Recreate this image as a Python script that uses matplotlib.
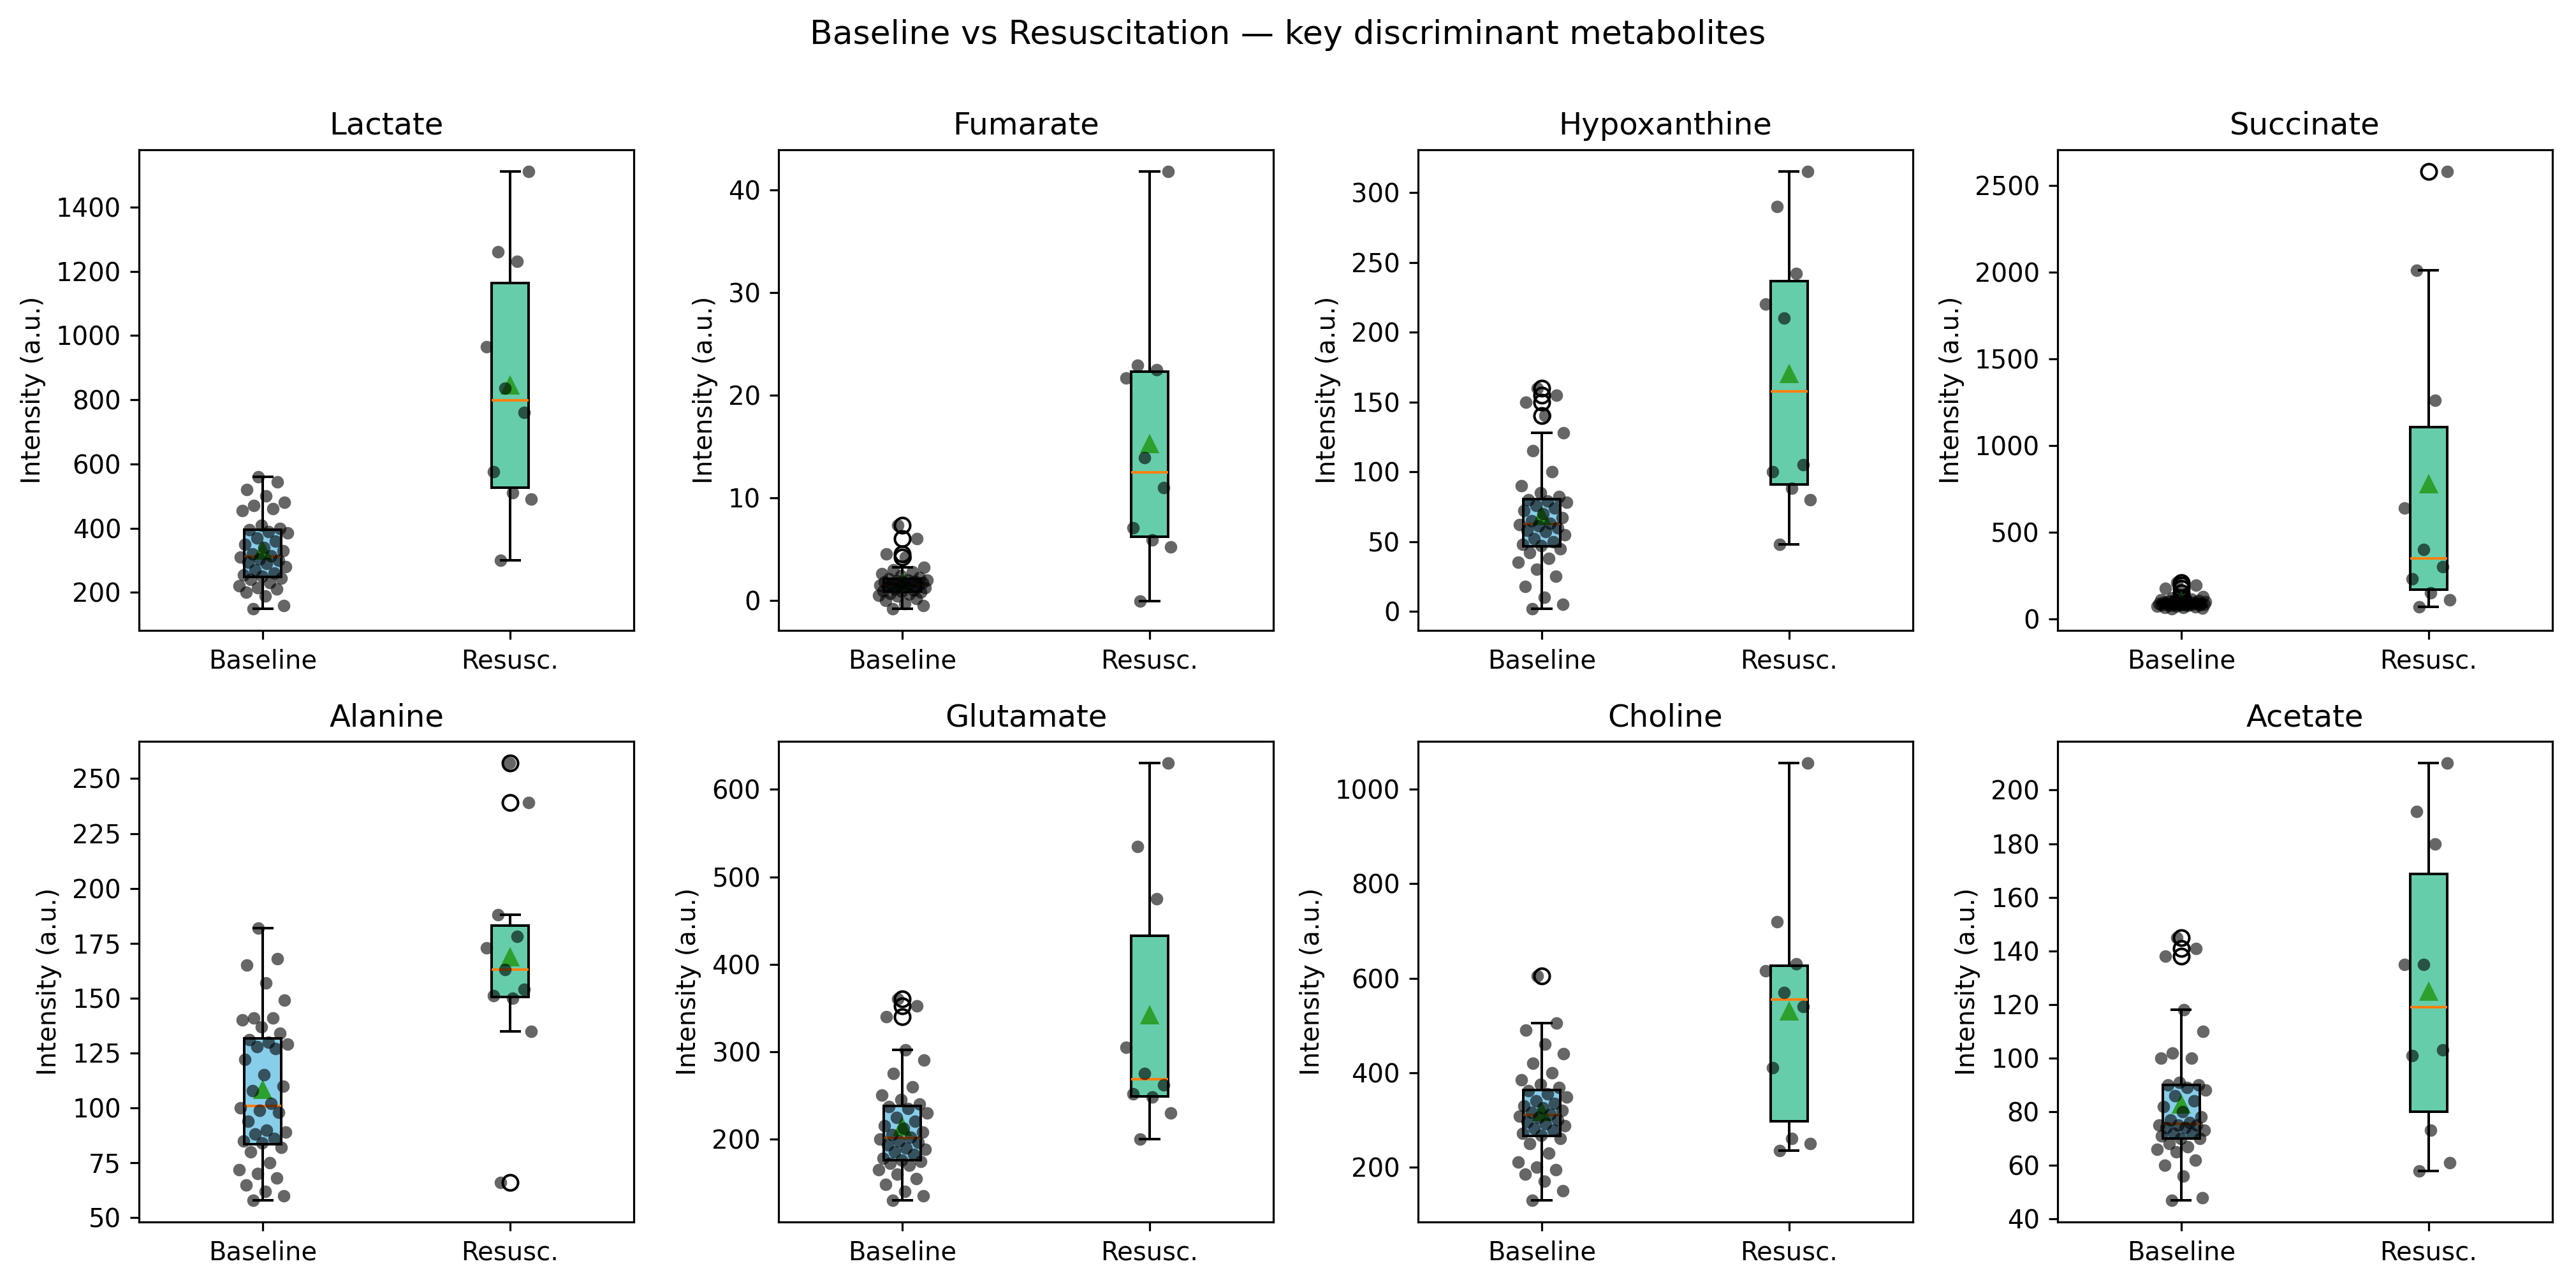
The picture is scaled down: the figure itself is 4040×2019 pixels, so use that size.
import numpy as np
import matplotlib
matplotlib.use("Agg")
import matplotlib.pyplot as plt

# ---------------- data ----------------
metabolites = ["Lactate", "Fumarate", "Hypoxanthine", "Succinate",
               "Alanine", "Glutamate", "Choline", "Acetate"]
group_labels = ["Baseline", "Resusc."]

lactate_base = [150, 160, 190, 200, 210, 215, 220, 230, 240, 245,
                250, 255, 260, 270, 280, 290, 295, 300, 305, 310,
                315, 320, 330, 340, 350, 360, 370, 385, 390, 395,
                400, 410, 455, 460, 470, 480, 500, 520, 545, 560]
lactate_resus = [300, 490, 510, 575, 760, 835, 965, 1230, 1260, 1510]

fumarate_base = [-0.8, -0.5, -0.3, 0.0, 0.2, 0.4, 0.5, 0.6, 0.7, 0.8,
                 0.85, 0.9, 1.0, 1.1, 1.2, 1.3, 1.35, 1.4, 1.5, 1.5,
                 1.6, 1.6, 1.7, 1.75, 1.8, 1.85, 1.9, 1.95, 2.0, 2.1,
                 2.2, 2.4, 2.6, 2.8, 3.0, 3.2, 4.2, 4.5, 6.0, 7.3]
fumarate_resus = [-0.1, 5.2, 5.9, 7.1, 11.0, 13.9, 21.7, 22.5, 22.9, 41.8]

hypox_base = [2, 5, 10, 18, 25, 30, 35, 38, 42, 45,
              47, 48, 50, 52, 55, 57, 58, 60, 61, 62,
              63, 65, 67, 70, 72, 74, 76, 78, 79, 80,
              82, 85, 90, 100, 115, 128, 140, 150, 155, 160]
hypox_resus = [48, 80, 88, 100, 105, 210, 220, 242, 290, 315]

succ_base = [60, 62, 65, 68, 70, 72, 74, 76, 78, 80,
             81, 82, 83, 84, 85, 86, 87, 88, 89, 90,
             91, 92, 93, 94, 95, 96, 98, 100, 102, 104,
             106, 108, 110, 115, 120, 130, 150, 175, 195, 210]
succ_resus = [70, 110, 150, 230, 300, 400, 640, 1260, 2010, 2580]

alanine_base = [58, 60, 62, 65, 68, 70, 72, 75, 80, 82,
                84, 85, 86, 88, 89, 90, 94, 98, 99, 100,
                102, 108, 110, 115, 122, 127, 128, 129, 130, 131,
                134, 137, 140, 141, 141, 149, 157, 165, 168, 182]
alanine_resus = [66, 135, 150, 151, 154, 163, 173, 178, 188, 239, 257]

glut_base = [130, 135, 140, 148, 155, 160, 165, 170, 172, 174,
             176, 178, 182, 185, 188, 190, 193, 196, 198, 200,
             202, 205, 208, 212, 215, 220, 225, 230, 235, 237,
             240, 245, 250, 260, 275, 290, 302, 340, 352, 360]
glut_resus = [200, 230, 248, 252, 262, 275, 305, 475, 535, 630]

choline_base = [130, 150, 170, 185, 195, 200, 210, 230, 250, 260,
                268, 272, 278, 282, 288, 292, 296, 300, 305, 308,
                312, 316, 320, 325, 330, 335, 340, 348, 355, 362,
                368, 375, 385, 400, 420, 440, 460, 490, 505, 605]
choline_resus = [235, 250, 260, 410, 540, 570, 615, 630, 720, 1055]

acetate_base = [47, 48, 56, 60, 62, 65, 66, 67, 68, 70,
                70, 71, 72, 72, 73, 74, 74, 75, 75, 75,
                76, 77, 78, 80, 82, 84, 86, 88, 89, 90,
                90, 91, 100, 100, 102, 110, 118, 138, 141, 145]
acetate_resus = [58, 61, 73, 101, 103, 135, 135, 180, 192, 210]

baseline_values = [lactate_base, fumarate_base, hypox_base, succ_base,
                   alanine_base, glut_base, choline_base, acetate_base]
resusc_values = [lactate_resus, fumarate_resus, hypox_resus, succ_resus,
                 alanine_resus, glut_resus, choline_resus, acetate_resus]

# ---------------- styling ----------------
box_colors = ["skyblue", "mediumaquamarine"]
DPI = 288.6
fig, axes = plt.subplots(2, 4, figsize=(4040 / DPI, 2019 / DPI), dpi=DPI)
fig.subplots_adjust(left=0.054, right=0.9908, top=0.8836, bottom=0.0505,
                    wspace=0.2925, hspace=0.231)


def jitter(n, width=0.2):
    # deterministic, evenly spread horizontal offsets (golden-ratio sequence)
    k = np.arange(n)
    return ((k * 0.6180339887 + 0.31) % 1.0 - 0.5) * width


for ax, name, base, res in zip(axes.flat, metabolites, baseline_values, resusc_values):
    bp = ax.boxplot([base, res], positions=[1, 2], widths=0.15,
                    patch_artist=True, showmeans=True)
    for patch, c in zip(bp["boxes"], box_colors):
        patch.set_facecolor(c)
    for pos, vals in zip([1, 2], [base, res]):
        vals = np.asarray(vals, dtype=float)
        ax.scatter(pos + jitter(len(vals)), vals, s=24, color="black", alpha=0.6,
                   linewidths=0, zorder=3)
    ax.set_xticks([1, 2])
    ax.set_xticklabels(group_labels, fontsize=10)
    ax.tick_params(axis="y", labelsize=10)
    ax.set_xlim(0.5, 2.5)
    ax.set_title(name, fontsize=12)
    ax.set_ylabel("Intensity (a.u.)", fontsize=10)

fig.suptitle("Baseline vs Resuscitation \u2014 key discriminant metabolites",
             fontsize=13, y=0.985, va="top")

fig.savefig("out.png", dpi=DPI)
